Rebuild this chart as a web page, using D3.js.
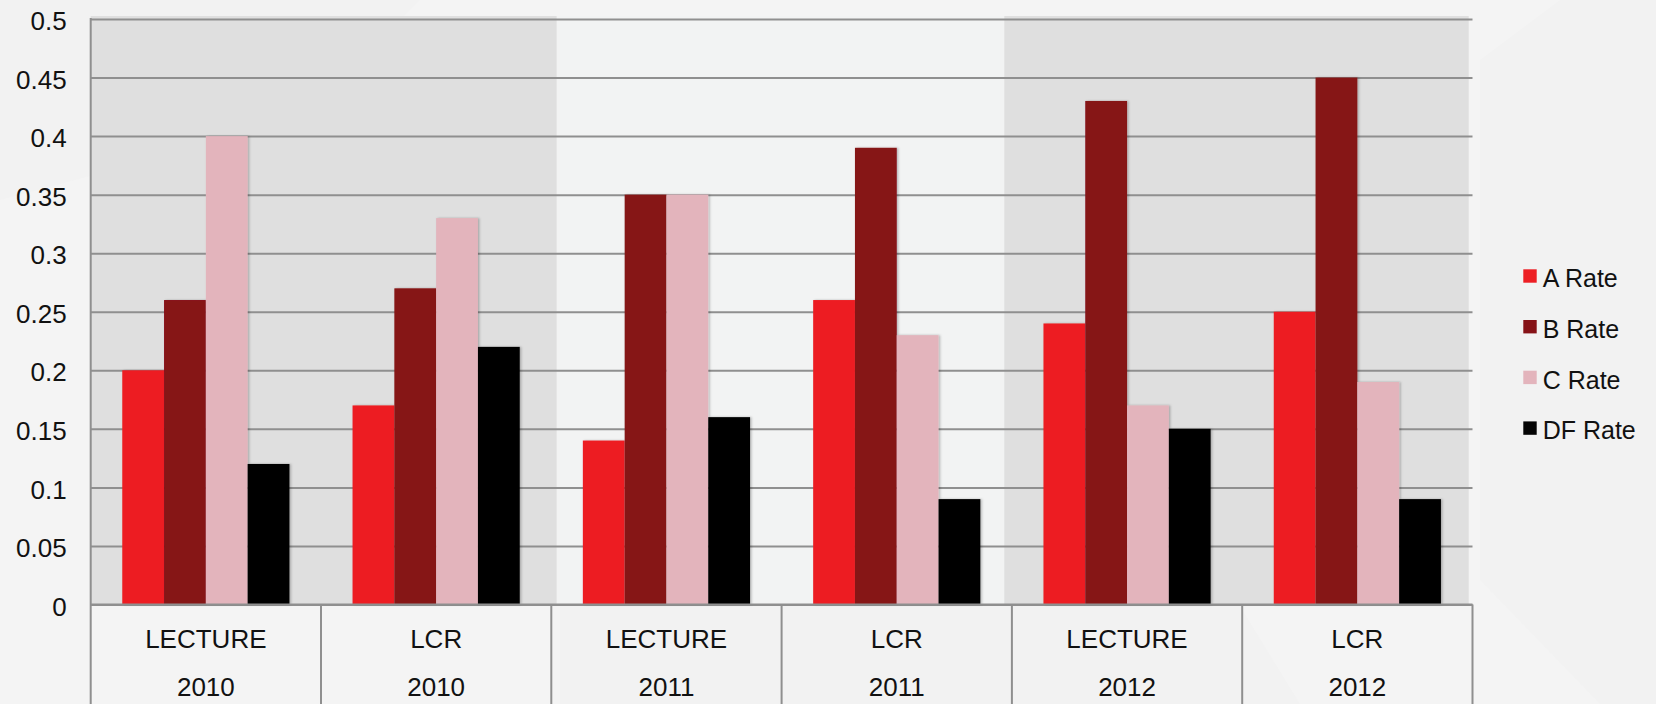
<!DOCTYPE html>
<html>
<head>
<meta charset="utf-8">
<script src="https://cdn.jsdelivr.net/npm/d3@7/dist/d3.min.js"></script>
<style>
  html, body { margin: 0; padding: 0; background: #f4f4f4; }
  svg { display: block; }
  text { font-family: "Liberation Sans", Arial, sans-serif; fill: #111; }
</style>
</head>
<body>
<svg id="chart" width="1656" height="704"></svg>
<script>
// Course grade-rate data: one group of four rates per course format and year
const categories = ["LECTURE", "LCR", "LECTURE", "LCR", "LECTURE", "LCR"];
const years = ["2010", "2010", "2011", "2011", "2012", "2012"];
const seriesNames = ["A Rate", "B Rate", "C Rate", "DF Rate"];
const aRate  = [0.20, 0.17, 0.14, 0.26, 0.24, 0.25];
const bRate  = [0.26, 0.27, 0.35, 0.39, 0.43, 0.45];
const cRate  = [0.40, 0.33, 0.35, 0.23, 0.17, 0.19];
const dfRate = [0.12, 0.22, 0.16, 0.09, 0.15, 0.09];
const yTicks = [0, 0.05, 0.1, 0.15, 0.2, 0.25, 0.3, 0.35, 0.4, 0.45, 0.5];
const colors = ["#ed1f24", "#861217", "#e3b4bc", "#050505"];

const seriesValues = [aRate, bRate, cRate, dfRate];
const groups = categories.map((c, i) => ({
  key: i,
  label: c,
  year: years[i],
  values: seriesValues.map((s, j) => ({ series: seriesNames[j], value: s[i], idx: j }))
}));

const svg = d3.select("#chart");
const W = 1656, H = 704;
const plotLeft = 90.7, plotRight = 1472.5, plotTop = 19, plotBottom = 604.5;

// Slide backdrop with faint angular shapes
const bg = svg.append("g");
bg.append("rect").attr("width", W).attr("height", H).attr("fill", "#f4f4f4");
bg.append("polygon").attr("points", "560,200 700,215 1000,215 1300,704 560,704").attr("fill", "#f2f2f2");
bg.append("polygon").attr("points", "1480,60 1560,0 1656,0 1656,704 1600,704 1480,580").attr("fill", "#f2f2f2");
bg.append("polygon").attr("points", "0,0 420,0 300,120 0,200").attr("fill", "#f2f2f2");

// Alternating year bands behind the plot
bg.append("rect").attr("x", plotLeft).attr("y", 16).attr("width", 556.8 - plotLeft).attr("height", plotBottom - 16).attr("fill", "#dfdfdf");
bg.append("rect").attr("x", 556.8).attr("y", 16).attr("width", 1004.3 - 556.8).attr("height", plotBottom - 16).attr("fill", "#f2f3f3");
bg.append("rect").attr("x", 1004.3).attr("y", 16).attr("width", 1468.7 - 1004.3).attr("height", plotBottom - 16).attr("fill", "#dfdfdf");

const x0 = d3.scaleBand().domain(groups.map(g => g.key)).range([plotLeft, plotRight]).padding(0);
const x1 = d3.scaleBand().domain(seriesNames).range([0, x0.bandwidth()]).paddingInner(0).paddingOuter(0.755);
const y = d3.scaleLinear().domain([0, 0.5]).range([plotBottom, plotTop]);

// Horizontal gridlines
svg.append("g")
  .attr("transform", `translate(${plotLeft},0)`)
  .call(d3.axisLeft(y).tickValues(yTicks).tickSize(-(plotRight - plotLeft)).tickFormat(""))
  .call(g => g.select(".domain").remove())
  .call(g => g.selectAll("line").attr("stroke", "#8f8f8f").attr("stroke-width", 2));

// Y tick labels
svg.append("g")
  .selectAll("text")
  .data(yTicks)
  .join("text")
  .attr("x", 66.7)
  .attr("y", d => y(d) + 2)
  .attr("dy", "0.35em")
  .attr("text-anchor", "end")
  .attr("font-size", 26)
  .text(d => d3.format("")(d));

// Soft shadow on the bars
const defs = svg.append("defs");
const f = defs.append("filter").attr("id", "shadow").attr("x", "-20%").attr("y", "-5%").attr("width", "140%").attr("height", "110%");
f.append("feDropShadow").attr("dx", 1.5).attr("dy", 0).attr("stdDeviation", 1.2).attr("flood-color", "#000").attr("flood-opacity", 0.25);

// Bars
svg.append("g")
  .selectAll("g")
  .data(groups)
  .join("g")
  .attr("transform", d => `translate(${x0(d.key)},0)`)
  .selectAll("rect")
  .data(d => d.values)
  .join("rect")
  .attr("x", d => x1(d.series))
  .attr("y", d => y(d.value))
  .attr("width", x1.bandwidth())
  .attr("height", d => plotBottom - y(d.value))
  .attr("fill", d => colors[d.idx])
  .attr("filter", "url(#shadow)");

// Axis frame: left line, zero line and category box separators
const frame = svg.append("g").attr("stroke", "#8f8f8f").attr("stroke-width", 2);
frame.append("line").attr("x1", plotLeft).attr("x2", plotLeft).attr("y1", plotTop - 1).attr("y2", H);
frame.append("line").attr("x1", plotLeft).attr("x2", plotRight).attr("y1", plotBottom).attr("y2", plotBottom);
frame.selectAll("line.sep")
  .data(groups.slice(1).map(g => x0(g.key)).concat([plotRight]))
  .join("line")
  .attr("class", "sep")
  .attr("x1", d => d).attr("x2", d => d)
  .attr("y1", plotBottom).attr("y2", H);

// Two-level category labels
const labels = svg.append("g").attr("text-anchor", "middle").attr("font-size", 26);
labels.selectAll("text.cat")
  .data(groups)
  .join("text")
  .attr("class", "cat")
  .attr("x", d => x0(d.key) + x0.bandwidth() / 2)
  .attr("y", 647.7)
  .text(d => d.label);
labels.selectAll("text.year")
  .data(groups)
  .join("text")
  .attr("class", "year")
  .attr("x", d => x0(d.key) + x0.bandwidth() / 2)
  .attr("y", 696)
  .text(d => d.year);

// Legend
const legend = svg.append("g")
  .selectAll("g")
  .data(seriesNames)
  .join("g")
  .attr("transform", (d, i) => `translate(1523.3,${287.3 + i * 50.7})`);
legend.append("rect")
  .attr("x", 0).attr("y", -18)
  .attr("width", 13.4).attr("height", 13.4)
  .attr("fill", (d, i) => colors[i]);
legend.append("text")
  .attr("x", 19.4).attr("y", 0)
  .attr("font-size", 25)
  .text(d => d);
</script>
</body>
</html>
